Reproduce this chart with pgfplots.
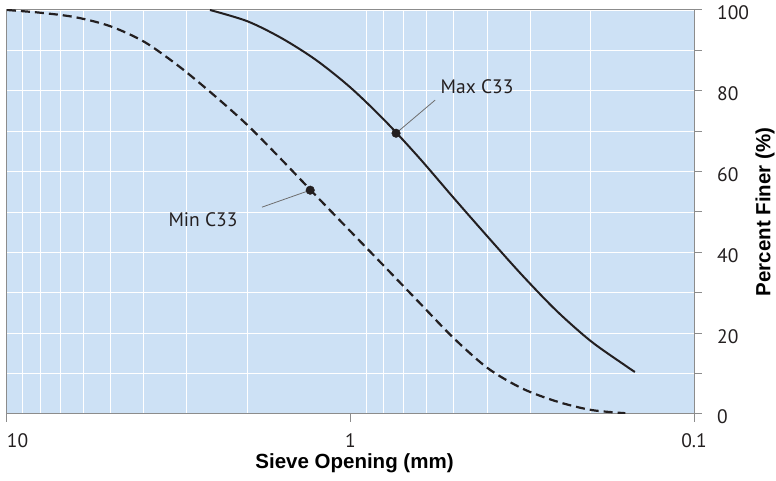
\documentclass[border=0pt]{standalone}
\usepackage{fontspec}
\setmainfont{PT Sans}
\newfontfamily\labelfont{Liberation Sans}
\usepackage{pgfplots}
\pgfplotsset{compat=1.18}

\definecolor{panel}{RGB}{205,225,245}
\definecolor{ink}{RGB}{35,31,32}
\definecolor{frame}{RGB}{140,140,140}
\definecolor{leader}{RGB}{110,110,110}

\begin{document}
\begin{tikzpicture}
\begin{axis}[
  scale only axis,
  width=687pt, height=404pt,
  xmode=log, x dir=reverse,
  xmin=0.1, xmax=10, ymin=0, ymax=100,
  axis background/.style={fill=panel},
  axis line style={frame, line width=1pt},
  xtick={0.1,1,10},
  xticklabels={0.1,1,\makebox[0pt][l]{10}},
  minor xtick={0.2,0.3,0.4,0.5,0.6,0.7,0.8,0.9,2,3,4,5,6,7,8,9},
  ytick={0,20,40,60,80,100},
  minor ytick={10,30,50,70,90},
  xminorgrids=true, ymajorgrids=true, yminorgrids=true,
  major grid style={white, line width=0.9pt},
  minor grid style={white, line width=0.9pt},
  minor x tick style={draw=none},
  tick style={frame, line width=1pt},
  tick align=outside,
  major tick length=8pt, minor tick length=8pt,
  xtick pos=bottom, ytick pos=right,
  yticklabel pos=right,
  /pgf/number format/assume math mode=true,
  tick label style={font=\fontsize{19.5}{22}\selectfont, text=ink},
  xticklabel style={anchor=north, inner sep=0pt, yshift=-11pt},
  yticklabel style={anchor=west, inner sep=0pt, xshift=15pt, yshift=-3pt},
  xlabel={Sieve Opening (mm)},
  ylabel={Percent Finer (\%)},
  every axis x label/.style={at={(axis description cs:0.5,0)}, anchor=center,
    yshift=-49pt, xshift=4pt, font=\labelfont\bfseries\fontsize{20.5}{22}\selectfont},
  every axis y label/.style={at={(axis description cs:1,0.5)}, anchor=center,
    rotate=90, yshift=-71pt, font=\labelfont\bfseries\fontsize{20.5}{22}\selectfont},
]
% lower grading limit (dashed)
\addplot[ink, line width=2.2pt, dash pattern=on 9pt off 5pt, smooth] coordinates {
  (10,100) (7.943,99.3) (6.310,98.2) (5.012,96.0) (3.981,92.1) (3.162,86.1)
  (2.512,79.1) (1.995,71.5) (1.585,62.9) (1.259,54.0) (1,45.2) (0.794,36.4)
  (0.631,27.6) (0.501,18.8) (0.398,11.3) (0.316,6.3) (0.251,3.1) (0.1995,1.0)
  (0.1585,0.2)
};
% upper grading limit (solid)
\addplot[ink, line width=2pt, smooth] coordinates {
  (2.565,100) (1.995,97.2) (1.585,93.0) (1.259,87.6) (1,80.8) (0.794,72.6)
  (0.631,63.4) (0.501,53.5) (0.398,43.8) (0.316,34.3) (0.251,25.5)
  (0.1995,18.0) (0.1585,12.0) (0.1486,10.4)
};
% leader lines
\addplot[leader, line width=0.8pt] coordinates {(0.737,69.5) (0.567,77.7)};
\addplot[leader, line width=0.8pt] coordinates {(1.31,55.4) (1.81,51.2)};
% marked points
\addplot[only marks, mark=*, mark size=4.3pt, ink] coordinates {(0.737,69.5) (1.31,55.4)};
\node[font=\fontsize{19.5}{22}\selectfont, text=ink] at (axis cs:0.428,80.9) {Max C33};
\node[font=\fontsize{19.5}{22}\selectfont, text=ink] at (axis cs:2.688,48.0) {Min C33};
\end{axis}
\pgfresetboundingbox
\path[use as bounding box] (-7pt,-67pt) rectangle (769pt,414pt);
\end{tikzpicture}
\end{document}
